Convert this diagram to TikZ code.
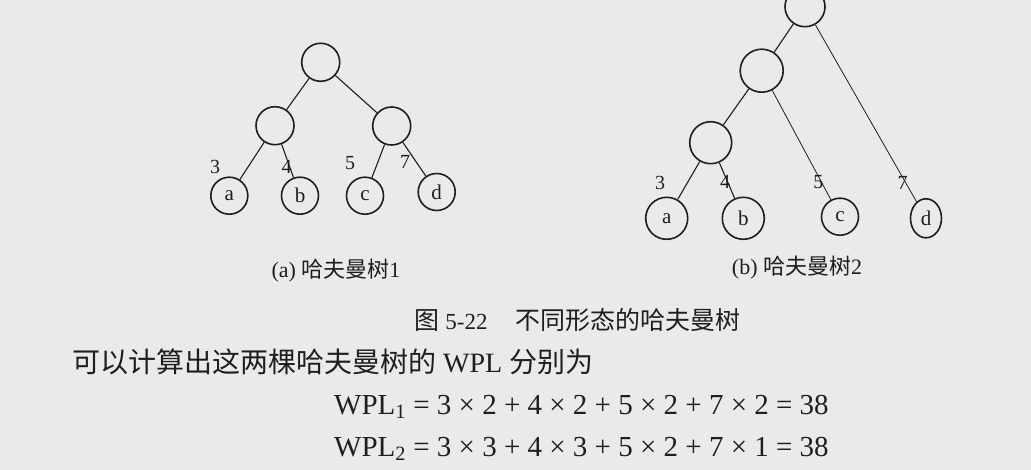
\documentclass[tikz,border=0pt]{standalone}
\usepackage{fontspec}
\setmainfont{Liberation Serif}
\newfontfamily\cjk{Noto Sans CJK SC}
\usetikzlibrary{shapes.geometric}
\definecolor{paper}{RGB}{234,234,232}
\definecolor{ink}{RGB}{30,30,30}
\begin{document}
\begin{tikzpicture}[x=1pt,y=-1pt,
  nd/.style={circle,draw=ink,line width=1.6pt,inner sep=0pt,text=ink,font=\fontsize{21}{22}\selectfont},
  edge/.style={draw=ink,line width=1.1pt},
  thinedge/.style={draw=ink,line width=0.8pt},
  wt/.style={text=ink,inner sep=0pt,font=\fontsize{20}{22}\selectfont},
  captext/.style={text=ink,inner sep=0pt,font=\fontsize{22}{24}\selectfont},
  body/.style={text=ink,inner sep=0pt,anchor=west,font=\fontsize{28}{30}\selectfont},
  eq/.style={text=ink,inner sep=0pt,anchor=base west,font=\fontsize{29}{31}\selectfont}]
\useasboundingbox (0,0) rectangle (1031,470);
\clip (0,0) rectangle (1031,470);
\fill[paper] (0,0) rectangle (1031,470);

% Tree 1
\node[nd,minimum size=38pt] (r1) at (320.7,62.3) {};
\node[nd,minimum size=38pt] (l1) at (275,125.7) {};
\node[nd,minimum size=38pt] (m1) at (391.7,126) {};
\node[nd,minimum size=37pt] (a1) at (229.3,195.7) {a};
\node[nd,minimum size=37pt] (b1) at (300,195.7) {b};
\node[nd,minimum size=37pt] (c1) at (365,195.7) {c};
\node[nd,minimum size=37pt] (d1) at (436.7,192) {d};
\draw[edge] (r1) -- (l1);
\draw[edge] (r1) -- (m1);
\draw[edge] (l1) -- (a1);
\draw[edge] (l1) -- (b1);
\draw[edge] (m1) -- (c1);
\draw[edge] (m1) -- (d1);
\node[wt] (w1a) at (215,166.7) {3};
\node[wt] (w1b) at (286.7,166.7) {4};
\node[wt] (w1c) at (350,163) {5};
\node[wt] (w1d) at (405,161.7) {7};
\node[captext] (capa) at (336,271) {(a) {\cjk 哈夫曼树}1};

% Tree 2
\node[nd,minimum size=40pt] (r2) at (805,6.7) {};
\node[nd,minimum size=43pt] (l2) at (761.7,70.7) {};
\node[nd,minimum size=42pt] (m2) at (710.7,142.7) {};
\node[nd,minimum size=42pt] (a2) at (666.7,218.3) {a};
\node[nd,minimum size=42pt] (b2) at (743.3,218.3) {b};
\node[nd,minimum size=37pt] (c2) at (840,216.7) {c};
\node[nd,ellipse,minimum width=31pt,minimum height=39pt] (d2) at (926,218.3) {d};
\draw[edge] (r2) -- (l2);
\draw[thinedge] (r2) -- (d2);
\draw[edge] (l2) -- (m2);
\draw[thinedge] (l2) -- (c2);
\draw[edge] (m2) -- (a2);
\draw[edge] (m2) -- (b2);
\node[wt] (w2a) at (660,183.3) {3};
\node[wt] (w2b) at (725,181.7) {4};
\node[wt] (w2c) at (818.3,181.7) {5};
\node[wt] (w2d) at (902.7,183.3) {7};
\node[captext] (capb) at (797,268) {(b) {\cjk 哈夫曼树}2};

% Caption and text
\node[text=ink,inner sep=0pt,anchor=west,font=\fontsize{25}{27}\selectfont] (fig) at (414,320) {{\cjk 图} {\fontsize{23}{25}\selectfont 5-22}\hspace{28pt}{\cjk 不同形态的哈夫曼树}};
\node[body] (txt) at (72,362) {{\cjk 可以计算出这两棵哈夫曼树的} WPL {\cjk 分别为}};
\node[eq] (eq1) at (334,414) {WPL\textsubscript{1} = 3 × 2 + 4 × 2 + 5 × 2 + 7 × 2 = 38};
\node[eq] (eq2) at (334,456) {WPL\textsubscript{2} = 3 × 3 + 4 × 3 + 5 × 2 + 7 × 1 = 38};
\end{tikzpicture}
\end{document}
